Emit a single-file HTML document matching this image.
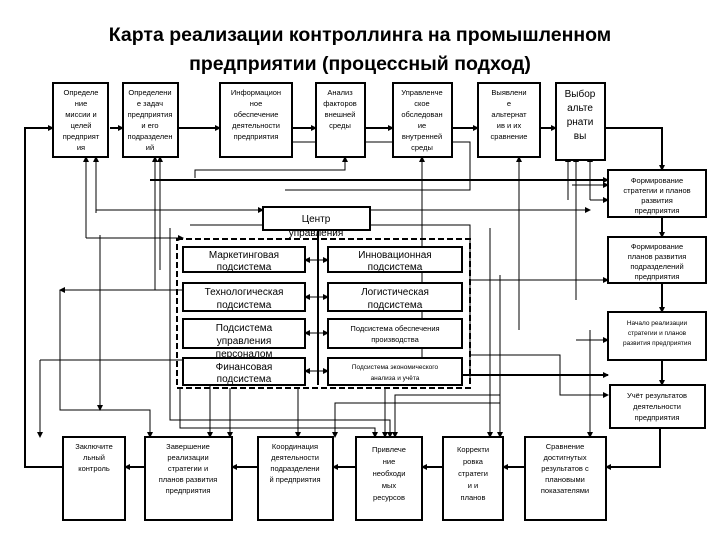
<!DOCTYPE html>
<html><head><meta charset="utf-8"><style>
body{margin:0;background:#fff}
svg{display:block}
text{font-family:"Liberation Sans",sans-serif;fill:#000}
.t{font-size:19.5px;font-weight:bold;text-anchor:middle}
.s{font-size:7.5px;text-anchor:middle}
.m{font-size:10px;text-anchor:middle}
.b{fill:#fff;stroke:#000;stroke-width:2}
.l{fill:none;stroke:#000;stroke-width:1}
.k{fill:none;stroke:#000;stroke-width:2}
</style></head><body>
<svg width="720" height="540" viewBox="0 0 720 540" xmlns="http://www.w3.org/2000/svg">
<defs><marker id="a" markerWidth="6" markerHeight="6" refX="5" refY="3" orient="auto" markerUnits="userSpaceOnUse"><path d="M0,0L6,3L0,6z" fill="#000"/></marker></defs>
<text class="t" x="360" y="41">Карта реализации контроллинга на промышленном</text>
<text class="t" x="360" y="70">предприятии (процессный подход)</text>

<g class="k" marker-end="url(#a)">
<path d="M63,467H25V128H53"/>
<path d="M110,128H123"/>
<path d="M178,128H220"/>
<path d="M292,128H316"/>
<path d="M365,128H393"/>
<path d="M452,128H478"/>
<path d="M540,128H556"/>
<path d="M605,128H662V170"/>
<path d="M662,217V237"/>
<path d="M662,283V312"/>
<path d="M662,360V385"/>
<path d="M660,428V467H606"/>
<path d="M525,467H503"/>
<path d="M443,467H422"/>
<path d="M356,467H333"/>
<path d="M258,467H232"/>
<path d="M145,467H125"/>
<path d="M150,180H608"/>
<path d="M330,375H608"/>
</g>
<g class="l" marker-end="url(#a)">
<path d="M96,213V157"/><path d="M86,238V157"/>
<path d="M155,290V157"/><path d="M160,270V157"/>
<path d="M285,190H470V142H283V157"/>
<path d="M195,178V170H345V157"/>
<path d="M422,380V157"/>
<path d="M519,330V157"/>
<path d="M568,200V157"/><path d="M576,300V157"/><path d="M590,200V157"/>
<path d="M572,185H608"/>
<path d="M590,200H608"/>
<path d="M470,280H608"/>
<path d="M576,340H608"/>
<path d="M470,355H560V395H608"/>
<path d="M96,210H263"/>
<path d="M370,210H590"/>
<path d="M183,290H60"/>
<path d="M86,238H183"/>
<path d="M100,235V410"/>
<path d="M100,410H150V437"/>
<path d="M40,360V437"/>
<path d="M230,388V437"/><path d="M298,388V437"/>
<path d="M385,388V437"/>
<path d="M500,395H395V437"/>
<path d="M500,403H335V437"/>
<path d="M500,275V437"/>
<path d="M490,228V437"/>
<path d="M210,385V437"/>
<path d="M590,330V437"/>
<path d="M170,228V420H390V437"/>
<path d="M180,388V428H375V437"/>
</g>
<path class="l" d="M60,290V410H100M40,360H183"/>
<path class="l" d="M160,238H177M190,225H470V380"/>
<path class="k" d="M318,230V385"/>
<g class="l" marker-end="url(#a)">
<path d="M318,260H305"/><path d="M318,260H328"/>
<path d="M318,297H305"/><path d="M318,297H328"/>
<path d="M318,333H305"/><path d="M318,333H328"/>
<path d="M318,371H305"/><path d="M318,371H328"/>
</g>
<rect x="177" y="239" width="293" height="149" fill="none" stroke="#000" stroke-width="2" stroke-dasharray="6,3"/>

<rect class="b" x="53" y="83" width="55" height="74"/>
<text class="s"><tspan x="81" y="95">Определе</tspan><tspan x="81" y="106">ние</tspan><tspan x="81" y="117">миссии и</tspan><tspan x="81" y="128">целей</tspan><tspan x="81" y="139">предприят</tspan><tspan x="81" y="150">ия</tspan></text>
<rect class="b" x="123" y="83" width="55" height="74"/>
<text class="s"><tspan x="150" y="95">Определени</tspan><tspan x="150" y="106">е задач</tspan><tspan x="150" y="117">предприятия</tspan><tspan x="150" y="128">и его</tspan><tspan x="150" y="139">подразделен</tspan><tspan x="150" y="150">ий</tspan></text>
<rect class="b" x="220" y="83" width="72" height="74"/>
<text class="s"><tspan x="256" y="95">Информацион</tspan><tspan x="256" y="106">ное</tspan><tspan x="256" y="117">обеспечение</tspan><tspan x="256" y="128">деятельности</tspan><tspan x="256" y="139">предприятия</tspan></text>
<rect class="b" x="316" y="83" width="49" height="74"/>
<text class="s"><tspan x="340" y="95">Анализ</tspan><tspan x="340" y="106">факторов</tspan><tspan x="340" y="117">внешней</tspan><tspan x="340" y="128">среды</tspan></text>
<rect class="b" x="393" y="83" width="59" height="74"/>
<text class="s"><tspan x="422" y="95">Управленче</tspan><tspan x="422" y="106">ское</tspan><tspan x="422" y="117">обследован</tspan><tspan x="422" y="128">ие</tspan><tspan x="422" y="139">внутренней</tspan><tspan x="422" y="150">среды</tspan></text>
<rect class="b" x="478" y="83" width="62" height="74"/>
<text class="s"><tspan x="509" y="95">Выявлени</tspan><tspan x="509" y="106">е</tspan><tspan x="509" y="117">альтернат</tspan><tspan x="509" y="128">ив и их</tspan><tspan x="509" y="139">сравнение</tspan></text>
<rect class="b" x="556" y="83" width="49" height="77"/>
<text class="m"><tspan x="580" y="97">Выбор</tspan><tspan x="580" y="111">альте</tspan><tspan x="580" y="125">рнати</tspan><tspan x="580" y="139">вы</tspan></text>

<rect class="b" x="608" y="170" width="98" height="47"/>
<text class="s"><tspan x="657" y="183">Формирование</tspan><tspan x="657" y="193">стратегии и планов</tspan><tspan x="657" y="203">развития</tspan><tspan x="657" y="213">предприятия</tspan></text>
<rect class="b" x="608" y="237" width="98" height="46"/>
<text class="s"><tspan x="657" y="249">Формирование</tspan><tspan x="657" y="259">планов развития</tspan><tspan x="657" y="269">подразделений</tspan><tspan x="657" y="279">предприятия</tspan></text>
<rect class="b" x="608" y="312" width="98" height="48"/>
<text class="s" style="font-size:6.5px"><tspan x="657" y="325">Начало реализации</tspan><tspan x="657" y="335">стратегии и планов</tspan><tspan x="657" y="345">развития предприятия</tspan></text>
<rect class="b" x="610" y="385" width="95" height="43"/>
<text class="s"><tspan x="657" y="398">Учёт результатов</tspan><tspan x="657" y="409">деятельности</tspan><tspan x="657" y="420">предприятия</tspan></text>

<rect class="b" x="263" y="207" width="107" height="23"/>
<text class="m" x="316" y="222">Центр</text>
<text class="m" x="316" y="236">управления</text>
<rect class="b" x="183" y="247" width="122" height="25"/>
<text class="m"><tspan x="244" y="258">Маркетинговая</tspan><tspan x="244" y="270">подсистема</tspan></text>
<rect class="b" x="328" y="247" width="134" height="25"/>
<text class="m"><tspan x="395" y="258">Инновационная</tspan><tspan x="395" y="270">подсистема</tspan></text>
<rect class="b" x="183" y="283" width="122" height="28"/>
<text class="m"><tspan x="244" y="295">Технологическая</tspan><tspan x="244" y="308">подсистема</tspan></text>
<rect class="b" x="328" y="283" width="134" height="28"/>
<text class="m"><tspan x="395" y="295">Логистическая</tspan><tspan x="395" y="308">подсистема</tspan></text>
<rect class="b" x="183" y="319" width="122" height="29"/>
<text class="m"><tspan x="244" y="331">Подсистема</tspan><tspan x="244" y="344">управления</tspan><tspan x="244" y="357">персоналом</tspan></text>
<rect class="b" x="328" y="319" width="134" height="29"/>
<text class="s"><tspan x="395" y="331">Подсистема обеспечения</tspan><tspan x="395" y="342">производства</tspan></text>
<rect class="b" x="183" y="358" width="122" height="27"/>
<text class="m"><tspan x="244" y="370">Финансовая</tspan><tspan x="244" y="382">подсистема</tspan></text>
<rect class="b" x="328" y="358" width="134" height="27"/>
<text class="s" style="font-size:6.5px"><tspan x="395" y="369">Подсистема экономического</tspan><tspan x="395" y="380">анализа и учёта</tspan></text>

<rect class="b" x="63" y="437" width="62" height="83"/>
<text class="s"><tspan x="94" y="449">Заключите</tspan><tspan x="94" y="460">льный</tspan><tspan x="94" y="471">контроль</tspan></text>
<rect class="b" x="145" y="437" width="87" height="83"/>
<text class="s"><tspan x="188" y="449">Завершение</tspan><tspan x="188" y="460">реализации</tspan><tspan x="188" y="471">стратегии и</tspan><tspan x="188" y="482">планов развития</tspan><tspan x="188" y="493">предприятия</tspan></text>
<rect class="b" x="258" y="437" width="75" height="83"/>
<text class="s"><tspan x="295" y="449">Координация</tspan><tspan x="295" y="460">деятельности</tspan><tspan x="295" y="471">подразделени</tspan><tspan x="295" y="482">й предприятия</tspan></text>
<rect class="b" x="356" y="437" width="66" height="83"/>
<text class="s"><tspan x="389" y="452">Привлече</tspan><tspan x="389" y="464">ние</tspan><tspan x="389" y="476">необходи</tspan><tspan x="389" y="488">мых</tspan><tspan x="389" y="500">ресурсов</tspan></text>
<rect class="b" x="443" y="437" width="60" height="83"/>
<text class="s"><tspan x="473" y="452">Корректи</tspan><tspan x="473" y="464">ровка</tspan><tspan x="473" y="476">стратеги</tspan><tspan x="473" y="488">и и</tspan><tspan x="473" y="500">планов</tspan></text>
<rect class="b" x="525" y="437" width="81" height="83"/>
<text class="s"><tspan x="565" y="449">Сравнение</tspan><tspan x="565" y="460">достигнутых</tspan><tspan x="565" y="471">результатов с</tspan><tspan x="565" y="482">плановыми</tspan><tspan x="565" y="493">показателями</tspan></text>
</svg>
</body></html>
